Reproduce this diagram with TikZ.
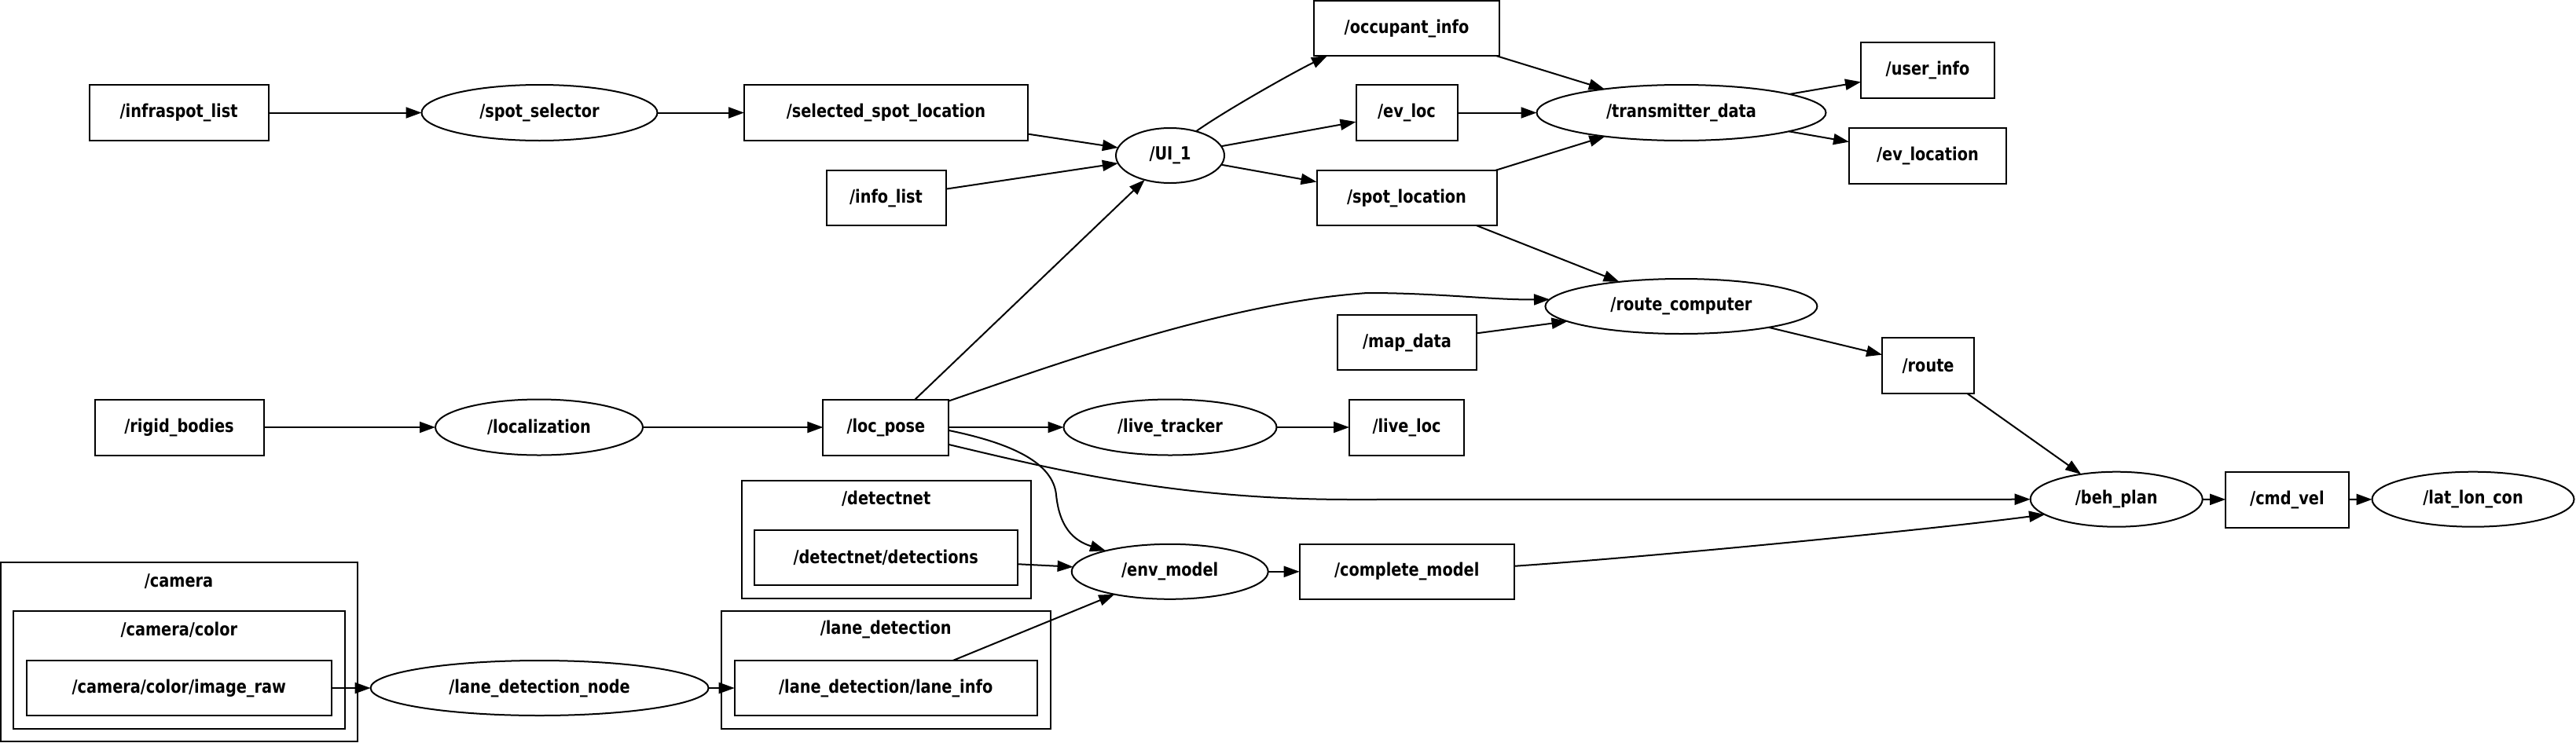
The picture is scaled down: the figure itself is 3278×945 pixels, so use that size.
\documentclass[tikz,border=0pt]{standalone}
\usepackage{fontspec}
\newfontfamily\lblfont{DejaVu Sans}[FakeStretch=0.84]
\usetikzlibrary{arrows.meta,shapes.geometric}
\begin{document}
\begin{tikzpicture}[x=1pt,y=-1pt,
  every node/.style={font=\lblfont\bfseries\fontsize{23}{27}\selectfont, inner sep=0pt, outer sep=0pt},
  topic/.style={draw, rectangle, line width=2pt},
  rosnode/.style={draw, ellipse, line width=2pt},
  cluster/.style={draw, rectangle, line width=2pt},
  arr/.style={line width=2pt, -{Triangle[length=20pt,width=14pt]}},
]
\fill[white] (0,0) rectangle (3278,945);
\useasboundingbox (0,0) rectangle (3278,945);

% clusters
\node[cluster, minimum width=454pt, minimum height=228pt] (cam) at (228,830) {};
\node[cluster, minimum width=422.3pt, minimum height=150pt] (camcol) at (227.85,852.7) {};
\node[cluster, minimum width=367.9pt, minimum height=150.5pt] (dn) at (1127.7,686.75) {};
\node[cluster, minimum width=418.7pt, minimum height=150.6pt] (ld) at (1127.25,853) {};
\node (camlbl) at (227.5,740) {/camera};
\node (camcollbl) at (227.8,802) {/camera/color};
\node (dnlbl) at (1127.7,635) {/detectnet};
\node (ldlbl) at (1127.2,801.7) {/lane\_detection};

% topics
\node[topic, minimum width=228pt, minimum height=71pt] (isl) at (227.6,143.5) {/infraspot\_list};
\node[topic, minimum width=361pt, minimum height=71pt] (ssl) at (1127.5,143.5) {/selected\_spot\_location};
\node[topic, minimum width=152pt, minimum height=70pt] (il) at (1127.5,252) {/info\_list};
\node[topic, minimum width=236pt, minimum height=70pt] (occ) at (1790,36) {/occupant\_info};
\node[topic, minimum width=129pt, minimum height=71pt] (evl) at (1790,143.5) {/ev\_loc};
\node[topic, minimum width=229pt, minimum height=70pt] (sl) at (1790,252) {/spot\_location};
\node[topic, minimum width=170pt, minimum height=71pt] (uinfo) at (2453,89.7) {/user\_info};
\node[topic, minimum width=200pt, minimum height=71pt] (evn) at (2453,198) {/ev\_location};
\node[topic, minimum width=215pt, minimum height=71pt] (rb) at (228,544) {/rigid\_bodies};
\node[topic, minimum width=160pt, minimum height=71pt] (lp) at (1127.4,544) {/loc\_pose};
\node[topic, minimum width=146pt, minimum height=71pt] (ll) at (1790,544) {/live\_loc};
\node[topic, minimum width=177.5pt, minimum height=70pt] (md) at (1790.5,436) {/map\_data};
\node[topic, minimum width=117pt, minimum height=71pt] (rt) at (2453.6,465.7) {/route};
\node[topic, minimum width=156.5pt, minimum height=71pt] (cv) at (2910.4,636) {/cmd\_vel};
\node[topic, minimum width=388pt, minimum height=70pt] (ir) at (227.8,876) {/camera/color/image\_raw};
\node[topic, minimum width=385pt, minimum height=70pt] (li) at (1127.2,876) {/lane\_detection/lane\_info};
\node[topic, minimum width=335pt, minimum height=70pt] (dd) at (1127.2,710) {/detectnet/detections};
\node[topic, minimum width=273pt, minimum height=70pt] (cm) at (1790.2,727.8) {/complete\_model};

% ros nodes
\node[rosnode, minimum width=300pt, minimum height=71pt] (ss) at (686.5,143.5) {/spot\_selector};
\node[rosnode, minimum width=138pt, minimum height=70pt] (u1) at (1489,198) {/UI\_1};
\node[rosnode, minimum width=368pt, minimum height=71pt] (td) at (2139.5,143.5) {/transmitter\_data};
\node[rosnode, minimum width=264pt, minimum height=71pt] (loc) at (686,544) {/localization};
\node[rosnode, minimum width=271pt, minimum height=71pt] (lt) at (1489,544) {/live\_tracker};
\node[rosnode, minimum width=346pt, minimum height=70pt] (rc) at (2139.4,390) {/route\_computer};
\node[rosnode, minimum width=219pt, minimum height=70pt] (bp) at (2693.2,635.7) {/beh\_plan};
\node[rosnode, minimum width=257pt, minimum height=70pt] (llc) at (3147,635.7) {/lat\_lon\_con};
\node[rosnode, minimum width=430pt, minimum height=70pt] (ldn) at (686.6,876) {/lane\_detection\_node};
\node[rosnode, minimum width=250pt, minimum height=70pt] (em) at (1488.7,727.8) {/env\_model};

\coordinate (peak) at (1740,373);
\coordinate (bend) at (1344,630);
\coordinate (flat) at (1720,636);

% edges
\draw[arr] (isl) -- (ss);
\draw[arr] (ss) -- (ssl);
\draw[arr] (ssl) -- (u1);
\draw[arr] (il) -- (u1);
\draw[arr] (lp) -- (u1);
\draw[arr] (u1.43) .. controls +(35,-25) and +(-45,22) .. ([xshift=-101pt]occ.south);
\draw[arr] (u1) -- (evl);
\draw[arr] (u1) -- (sl);
\draw[arr] (occ) -- (td);
\draw[arr] (evl) -- (td);
\draw[arr] (sl) -- (td);
\draw[arr] (td) -- (uinfo);
\draw[arr] (td) -- (evn);
\draw[arr] (sl) -- (rc);
\draw[arr] ([yshift=-2pt]lp.north east) .. controls (1340,465) and (1560,385) .. (peak) .. controls (1830,373) and (1900,382) .. (rc.177);
\draw[arr] (md) -- (rc);
\draw[arr] (rc) -- (rt);
\draw[arr] (rt) -- (bp);
\draw[arr] (rb) -- (loc);
\draw[arr] (loc) -- (lp);
\draw[arr] (lp) -- (lt);
\draw[arr] (lt) -- (ll);
\draw[arr] ([yshift=-4pt]lp.east) .. controls (1290,565) and (1340,590) .. (bend) .. controls (1348,670) and (1365,688) .. (em.162);
\draw[arr] ([yshift=-22pt]lp.east) .. controls (1350,600) and (1500,636) .. (flat) -- (bp);
\draw[arr] (dd) -- (em);
\draw[arr] (li) -- (em);
\draw[arr] (em) -- (cm);
\draw[arr] ([yshift=7pt]cm.east) .. controls (2100,709) and (2450,675) .. (bp.192);
\draw[arr] (bp) -- (cv);
\draw[arr] (cv) -- (llc);
\draw[arr] (ir) -- (ldn);
\draw[arr] (ldn) -- (li);
\end{tikzpicture}
\end{document}
